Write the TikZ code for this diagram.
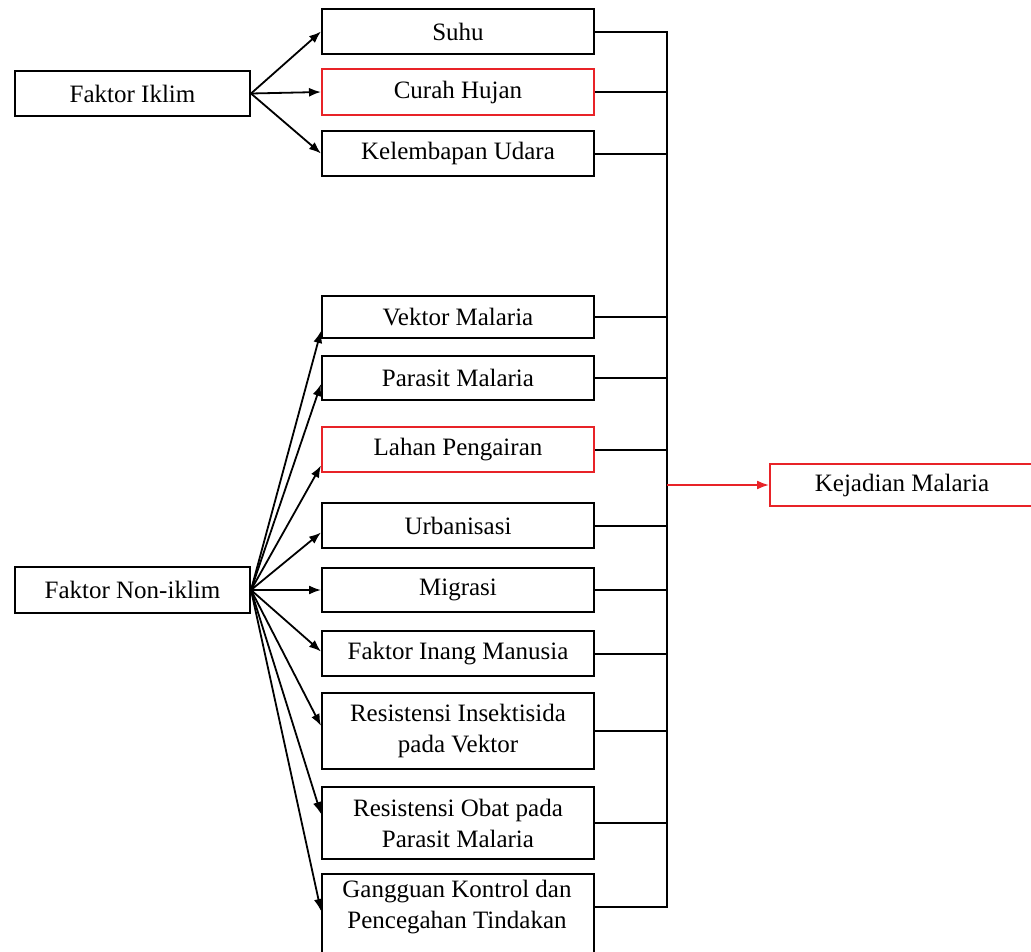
\documentclass[tikz,border=0pt]{standalone}
\usepackage{fontspec}
\setmainfont{Liberation Serif}
\usetikzlibrary{arrows.meta,calc}
\definecolor{boxred}{RGB}{232,35,40}
\begin{document}
\begin{tikzpicture}[x=1pt,y=-1pt,
  box/.style={draw, line width=2pt, inner sep=0pt, anchor=north west, align=center,
    font=\fontsize{25}{31}\selectfont},
  redbox/.style={box, draw=boxred},
  arr/.style={-{Latex[length=12pt,width=9pt]}, line width=1.8pt},
  link/.style={line width=2pt}]
\clip (0,0) rectangle (1031,951);
\fill[white] (0,0) rectangle (1031,951);
% left nodes
\node[box, minimum width=235pt, minimum height=45pt] (iklim) at (14,70) {Faktor Iklim};
\node[box, minimum width=235pt, minimum height=46pt] (noniklim) at (14,566) {Faktor Non-iklim};
% middle nodes
\node[box, minimum width=272pt, minimum height=45pt] (suhu) at (321,8) {Suhu};
\node[redbox, minimum width=272pt, minimum height=46pt] (curah) at (321,68) {Curah Hujan};
\node[box, minimum width=272pt, minimum height=45pt] (lembap) at (321,130) {Kelembapan Udara};
\node[box, minimum width=272pt, minimum height=42pt] (vektor) at (321,295) {Vektor Malaria};
\node[box, minimum width=272pt, minimum height=44pt] (parasit) at (321,355) {Parasit Malaria};
\node[redbox, minimum width=272pt, minimum height=45pt] (lahan) at (321,426) {Lahan Pengairan};
\node[box, minimum width=272pt, minimum height=45pt] (urban) at (321,502) {Urbanisasi};
\node[box, minimum width=272pt, minimum height=44pt] (migrasi) at (321,567) {Migrasi};
\node[box, minimum width=272pt, minimum height=45pt] (inang) at (321,630) {Faktor Inang Manusia};
\node[box, minimum width=272pt, minimum height=76pt] (insek) at (321,692) {Resistensi Insektisida\\pada Vektor};
\node[box, minimum width=272pt, minimum height=72pt] (obat) at (321,786) {Resistensi Obat pada\\Parasit Malaria};
\node[box, minimum width=272pt, minimum height=90pt] (gang) at (321,873) {};
\node[font=\fontsize{25}{31}\selectfont, align=center, inner sep=0pt] (gangtxt) at (457,907) {Gangguan Kontrol dan\\Pencegahan Tindakan};
% right node
\node[redbox, minimum width=280pt, minimum height=42pt] (kejadian) at (769,463) {\hspace*{-16pt}Kejadian Malaria};
% arrows from Faktor Iklim
\draw[arr] (iklim.east) -- (suhu.west);
\draw[arr] (iklim.east) -- (curah.west);
\draw[arr] (iklim.east) -- (lembap.west);
% arrows from Faktor Non-iklim
\draw[arr] (noniklim.east) -- ([yshift=-14pt]vektor.west);
\draw[arr] (noniklim.east) -- ([yshift=-6pt]parasit.west);
\draw[arr] (noniklim.east) -- ([yshift=-16pt]lahan.west);
\draw[arr] (noniklim.east) -- ([yshift=-7pt]urban.west);
\draw[arr] (noniklim.east) -- (migrasi.west);
\draw[arr] (noniklim.east) -- ([yshift=2pt]inang.west);
\draw[arr] (noniklim.east) -- ([yshift=5pt]insek.west);
\draw[arr] (noniklim.east) -- ([yshift=9pt]obat.west);
\draw[arr] (noniklim.east) -- ([yshift=8pt]gang.west);
% bus
\coordinate (bus) at (667,0);
\coordinate (gangout) at ([yshift=12pt]gang.east);
\foreach \n in {suhu,curah,lembap,vektor,parasit,lahan,urban,migrasi,inang,insek,obat}
  \draw[link] (\n.east) -- (\n.east -| bus);
\draw[link] (gangout) -- (gangout -| bus);
\draw[link, line cap=rect] (suhu.east -| bus) -- (gangout -| bus);
\draw[arr, boxred] (kejadian.west -| bus) -- (kejadian.west);
\end{tikzpicture}
\end{document}
